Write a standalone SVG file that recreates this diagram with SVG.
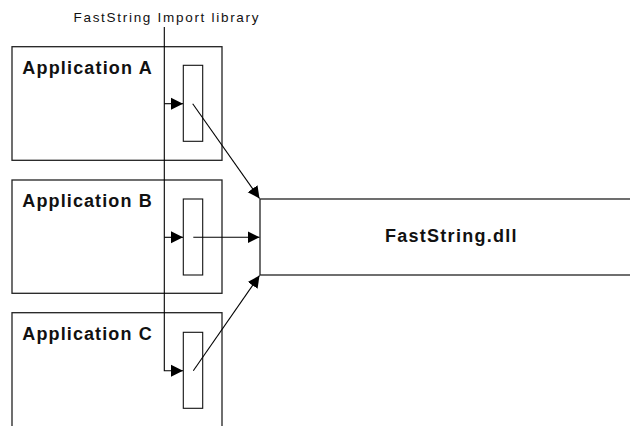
<svg xmlns="http://www.w3.org/2000/svg" width="630" height="426" viewBox="0 0 630 426">
  <style>
    .box { fill: none; stroke: #222; stroke-width: 1.3; }
    .lib { fill: #fff; stroke: #111; stroke-width: 1.1; }
    .conn { fill: none; stroke: #000; stroke-width: 1.1; }
    .label { font-family: "Liberation Sans", Arial, sans-serif; font-weight: bold; font-size: 18px; fill: #111; }
    .note { font-family: "Liberation Sans", Arial, sans-serif; font-size: 13.5px; fill: #111; }
  </style>
  <defs>
    <marker id="arrow" markerUnits="userSpaceOnUse" markerWidth="13" markerHeight="13" refX="12" refY="6" orient="auto" viewBox="0 0 13 12">
      <path d="M0,0 L12,6 L0,12 z" fill="#000"/>
    </marker>
  </defs>
  <rect width="630" height="426" fill="#fff"/>

  <text class="note" x="73.5" y="21.5" textLength="185" lengthAdjust="spacing">FastString Import library</text>

  <g id="appA">
    <rect class="box" x="12" y="46.7" width="210" height="113.6"/>
    <text class="label" x="22.3" y="74" textLength="129.4" lengthAdjust="spacing">Application A</text>
  </g>
  <g id="appB">
    <rect class="box" x="12" y="180" width="210" height="113.3"/>
    <text class="label" x="22.3" y="207.3" textLength="129.4" lengthAdjust="spacing">Application B</text>
  </g>
  <g id="appC">
    <rect class="box" x="12" y="312.7" width="210" height="130"/>
    <text class="label" x="22.3" y="340" textLength="129.4" lengthAdjust="spacing">Application C</text>
  </g>

  <g id="libA"><rect class="lib" x="183.3" y="65.3" width="19.4" height="76"/></g>
  <g id="libB"><rect class="lib" x="183.3" y="199" width="19.4" height="76"/></g>
  <g id="libC"><rect class="lib" x="183.3" y="332.3" width="19.4" height="76"/></g>

  <g id="dll">
    <rect class="box" x="260" y="199" width="400" height="76"/>
    <text class="label" x="385" y="242" textLength="131.5" lengthAdjust="spacing">FastString.dll</text>
  </g>

  <g id="connectors">
    <path class="conn" d="M164.3,27 V370.7 H183" marker-end="url(#arrow)"/>
    <path class="conn" d="M164.3,103.7 H183" marker-end="url(#arrow)"/>
    <path class="conn" d="M164.3,237.3 H183" marker-end="url(#arrow)"/>
    <path class="conn" d="M192.7,103.7 L259.5,198.5" marker-end="url(#arrow)"/>
    <path class="conn" d="M193.3,237.3 H259.5" marker-end="url(#arrow)"/>
    <path class="conn" d="M193.3,370.7 L259.5,275.5" marker-end="url(#arrow)"/>
  </g>
</svg>
